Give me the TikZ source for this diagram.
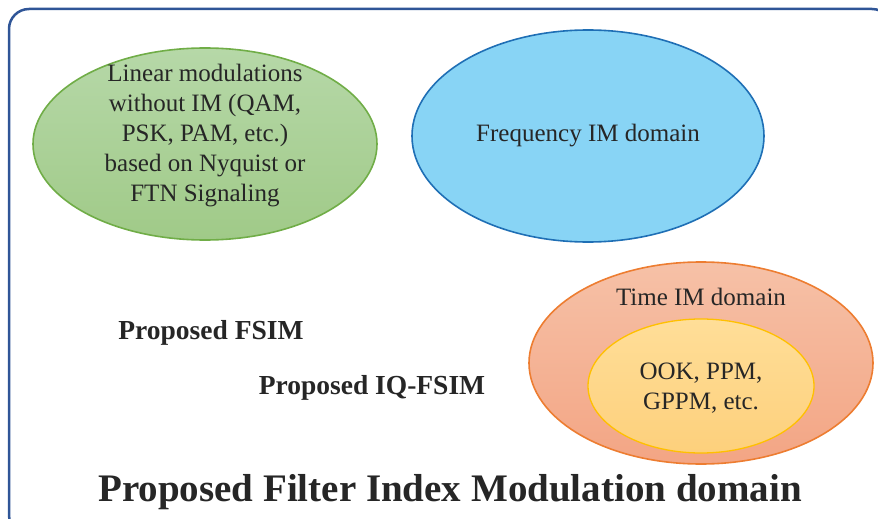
\documentclass[tikz,border=0pt]{standalone}
\usepackage{fontspec}
\setmainfont{Liberation Serif}
\usepackage{tikz}
\usepackage{xcolor}
\usetikzlibrary{positioning, shapes.geometric}
\definecolor{frameBlue}  {HTML}{2F5597}
\definecolor{linGreen}   {HTML}{70AD47}
\definecolor{linGreenTop}{HTML}{B6D8A8}
\definecolor{linGreenBot}{HTML}{A0CA88}
\definecolor{freqBlue}   {HTML}{1F6FB5}
\definecolor{freqFill}   {HTML}{88D4F5}
\definecolor{timeOrange} {HTML}{ED7D31}
\definecolor{timeTop}    {HTML}{F6C1A7}
\definecolor{timeBot}    {HTML}{F3A584}
\definecolor{ookGold}    {HTML}{FFC000}
\definecolor{ookTop}     {HTML}{FFDE98}
\definecolor{ookBot}     {HTML}{FDD07C}
\definecolor{cText}      {HTML}{262626}
\tikzset{
  imdomain/.style={ellipse, line width=1.6pt, inner sep=0pt, align=center,
    text=cText, font=\fontsize{25}{30}\selectfont},
  imlabel/.style={text=cText, font=\fontsize{25}{30}\selectfont, align=center},
  proposed/.style={text=cText, font=\fontsize{27.5}{30}\selectfont\bfseries},
}

\begin{document}
\begin{tikzpicture}[x=1pt, y=-1pt]
        \useasboundingbox (0,0) rectangle (878,519);
        \begin{scope}
          \clip (0,0) rectangle (878,519);
          \draw[frameBlue, line width=2.5pt, rounded corners=20pt] (9,9) rectangle (892,535);
        \end{scope}
        % IM domains
        \node[imdomain, draw=linGreen, top color=linGreenTop, bottom color=linGreenBot,
               minimum width=344pt, minimum height=192pt] (lin) at (205,144) {};
        \node[imlabel] (lintxt) at (205,136)
               {Linear modulations\\ without IM (QAM,\\ PSK, PAM, etc.)\\ based on Nyquist or\\ FTN Signaling};
        \node[imdomain, draw=freqBlue, fill=freqFill,
               minimum width=352pt, minimum height=212pt] (freq) at (588,136) {Frequency IM domain};
        \node[imdomain, draw=timeOrange, top color=timeTop, bottom color=timeBot,
               minimum width=344pt, minimum height=202pt] (time) at (701,363) {};
        \node[imlabel] (timelbl) at (701,297) {Time IM domain};
        \node[imdomain, draw=ookGold, top color=ookTop, bottom color=ookBot, line width=1.3pt,
               minimum width=226pt, minimum height=134pt] (ook) at (701,386) {};
        \node[imlabel] (ooktxt) at (701,388) {OOK, PPM,\\ GPPM, etc.};
        % proposed schemes
        \node[proposed] (fsim) at (211,333) {Proposed FSIM};
        \node[proposed] (iqfsim) at (372,388) {Proposed IQ-FSIM};
        \node[text=cText, font=\fontsize{39}{42}\selectfont\bfseries] (title) at (450,492)
               {Proposed Filter Index Modulation domain};
      \end{tikzpicture}
\end{document}
